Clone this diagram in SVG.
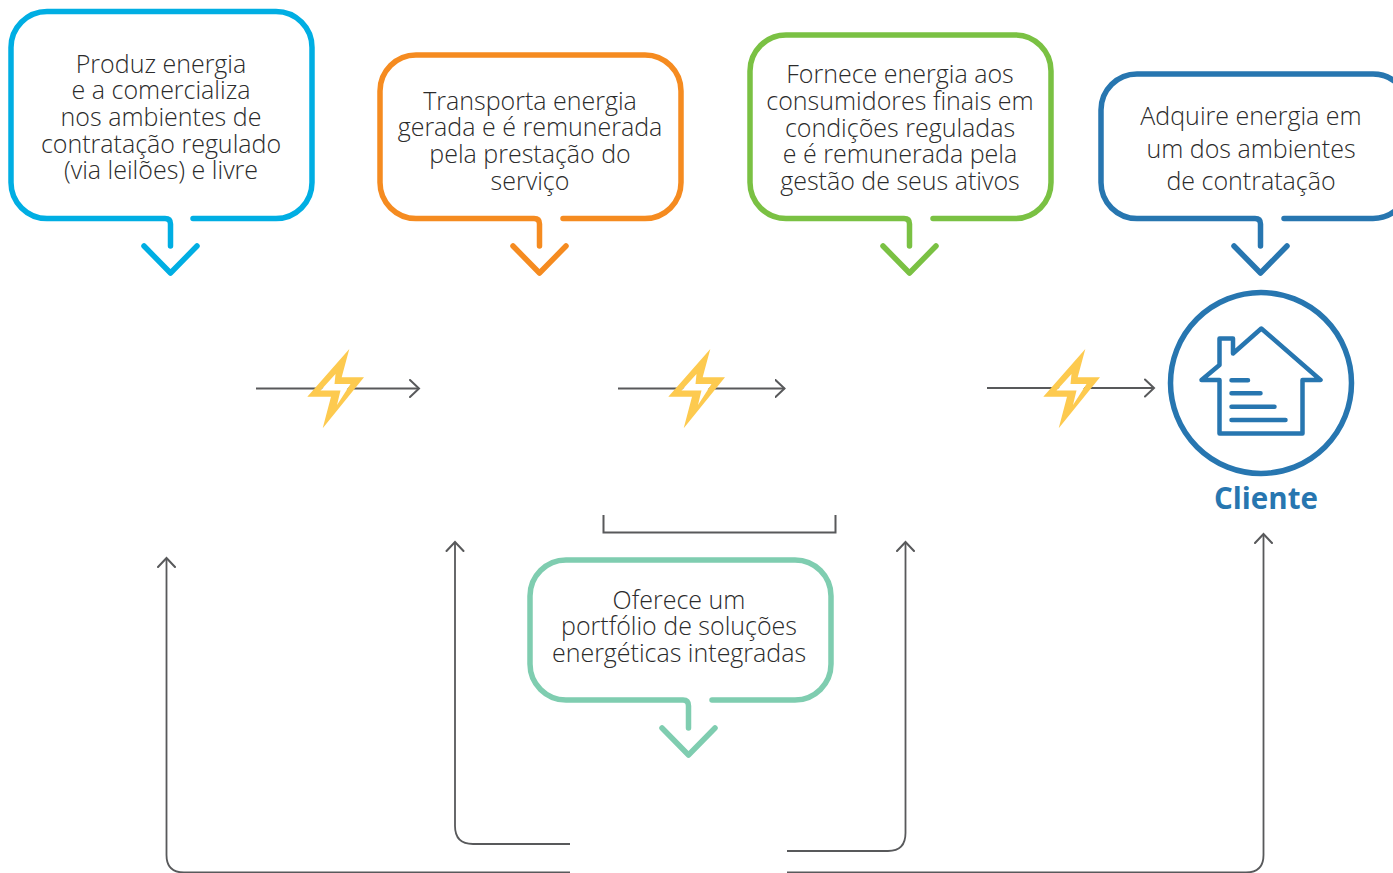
<svg xmlns="http://www.w3.org/2000/svg" width="1393" height="873" viewBox="0 0 1393 873">
<defs>
<marker id="a" viewBox="0 0 12 20" refX="10" refY="10" markerWidth="12" markerHeight="20" markerUnits="userSpaceOnUse" orient="auto"><path d="M1 1.500L10 10L1 18.500" fill="none" stroke="#58595b" stroke-width="2" stroke-linecap="round"/></marker>
<path id="bolt" d="M349.300 349L341.700 377.300H364L322.700 428.300L331 396.700H307.300ZM335.500 374L320.500 390.500H340.500L337 405L350.500 384H334.500Z" fill-rule="evenodd" fill="#fdca4f"/>
<path id="hole" d="M335.500 374L320.500 390.500H340.500L337 405L350.500 384H334.500Z" fill="#fff"/>
</defs>
<style>
text{font-family:"Open Sans","Noto Sans","Liberation Sans",sans-serif;font-weight:300;font-size:25px;fill:#2b2b2b;text-anchor:middle}
.b{fill:none;stroke-width:5.500;stroke-linecap:round;stroke-linejoin:round}
.c{fill:none;stroke:#58595b;stroke-width:1.800;marker-end:url(#a)}
</style>
<rect width="1393" height="873" fill="#fff"/>
<g id="connectors">
<path class="c" d="M256 388.500H419"/>
<path class="c" d="M618 388.500H784.500"/>
<path class="c" d="M987 388H1154"/>
<path class="c" d="M570 844H473Q455 844 455 826V542"/>
<path class="c" d="M787 851H888Q905.500 851 905.500 833V542"/>
<path class="c" d="M570 872.500H184Q166.500 872.500 166.500 855V558"/>
<path class="c" d="M787 872.500H1246Q1263.500 872.500 1263.500 855V534"/>
<path d="M603.500 515V532.500H835.500V515" fill="none" stroke="#58595b" stroke-width="2"/>
</g>
<g id="bolts">
<use href="#hole"/><use href="#bolt"/>
<use href="#hole" x="361"/><use href="#bolt" x="361"/>
<use href="#hole" x="736"/><use href="#bolt" x="736"/>
</g>
<g id="gerador">
<path class="b" stroke="#00aee3" d="M165 218.500H47A36 36 0 0 1 11 182.500V47.500A36 36 0 0 1 47 11.500H276A36 36 0 0 1 312 47.500V182.500A36 36 0 0 1 276 218.500H193M165 218.500Q170.500 218.500 170.500 224V246M144 246L170.500 273L197 246"/>
<text x="161" y="72.500">Produz energia</text><text x="161" y="98.500">e a comercializa</text><text x="161" y="125.500">nos ambientes de</text><text x="161" y="152.500">contratação regulado</text><text x="161" y="178.500">(via leilões) e livre</text>
</g>
<g id="transmissor">
<path class="b" stroke="#f58b20" d="M534 218.500H416A36 36 0 0 1 380 182.500V91A36 36 0 0 1 416 55H645A36 36 0 0 1 681 91V182.500A36 36 0 0 1 645 218.500H563M534 218.500Q539.500 218.500 539.500 224V246M513 246L539.500 273L566 246"/>
<text x="530" y="109.500">Transporta energia</text><text x="530" y="135.500">gerada e é remunerada</text><text x="530" y="162.500">pela prestação do</text><text x="530" y="189.500">serviço</text>
</g>
<g id="distribuidor">
<path class="b" stroke="#7ac143" d="M904 218.500H786A36 36 0 0 1 750 182.500V71A36 36 0 0 1 786 35H1015A36 36 0 0 1 1051 71V182.500A36 36 0 0 1 1015 218.500H933M904 218.500Q909.500 218.500 909.500 224V246M883 246L909.500 273L936 246"/>
<text x="900" y="82.500">Fornece energia aos</text><text x="900" y="109.500">consumidores finais em</text><text x="900" y="136.500">condições reguladas</text><text x="900" y="162.500">e é remunerada pela</text><text x="900" y="189.500">gestão de seus ativos</text>
</g>
<g id="comprador">
<path class="b" stroke="#2776b0" d="M1255 218.500H1137A36 36 0 0 1 1101 182.500V110A36 36 0 0 1 1137 74H1373A36 36 0 0 1 1409 110V182.500A36 36 0 0 1 1373 218.500H1284M1255 218.500Q1260.500 218.500 1260.500 224V246M1234 246L1260.500 273L1287 246"/>
<text x="1251" y="124.500">Adquire energia em</text><text x="1251" y="157.500">um dos ambientes</text><text x="1251" y="189.500">de contratação</text>
</g>
<g id="cliente">
<circle cx="1261" cy="383" r="90.500" fill="none" stroke="#2776b0" stroke-width="5.500"/>
<path d="M1219.500 380H1201.500L1219.500 365V338.500H1233V353.500L1261.300 328.500L1320.500 380H1302.500V433.500H1219.500Z" fill="none" stroke="#2776b0" stroke-width="4.500" stroke-linejoin="round"/>
<path d="M1231.500 380.300H1248M1231.500 393.300H1260.500M1231.500 406.700H1274.500M1231.500 420H1285.500" stroke="#2776b0" stroke-width="4.500" stroke-linecap="round"/>
<text x="1266" y="509" style="font-weight:700;font-size:29.500px;fill:#2776b0">Cliente</text>
</g>
<g id="comercializador">
<path class="b" stroke="#7fcdb0" d="M683 700H566A36 36 0 0 1 530 664V596A36 36 0 0 1 566 560H795A36 36 0 0 1 831 596V664A36 36 0 0 1 795 700H712M683 700Q688.500 700 688.500 706V728M662 728L688.500 755L715 728"/>
<text x="679" y="608.500">Oferece um</text><text x="679" y="634.500">portfólio de soluções</text><text x="679" y="661.500">energéticas integradas</text>
</g>
</svg>
